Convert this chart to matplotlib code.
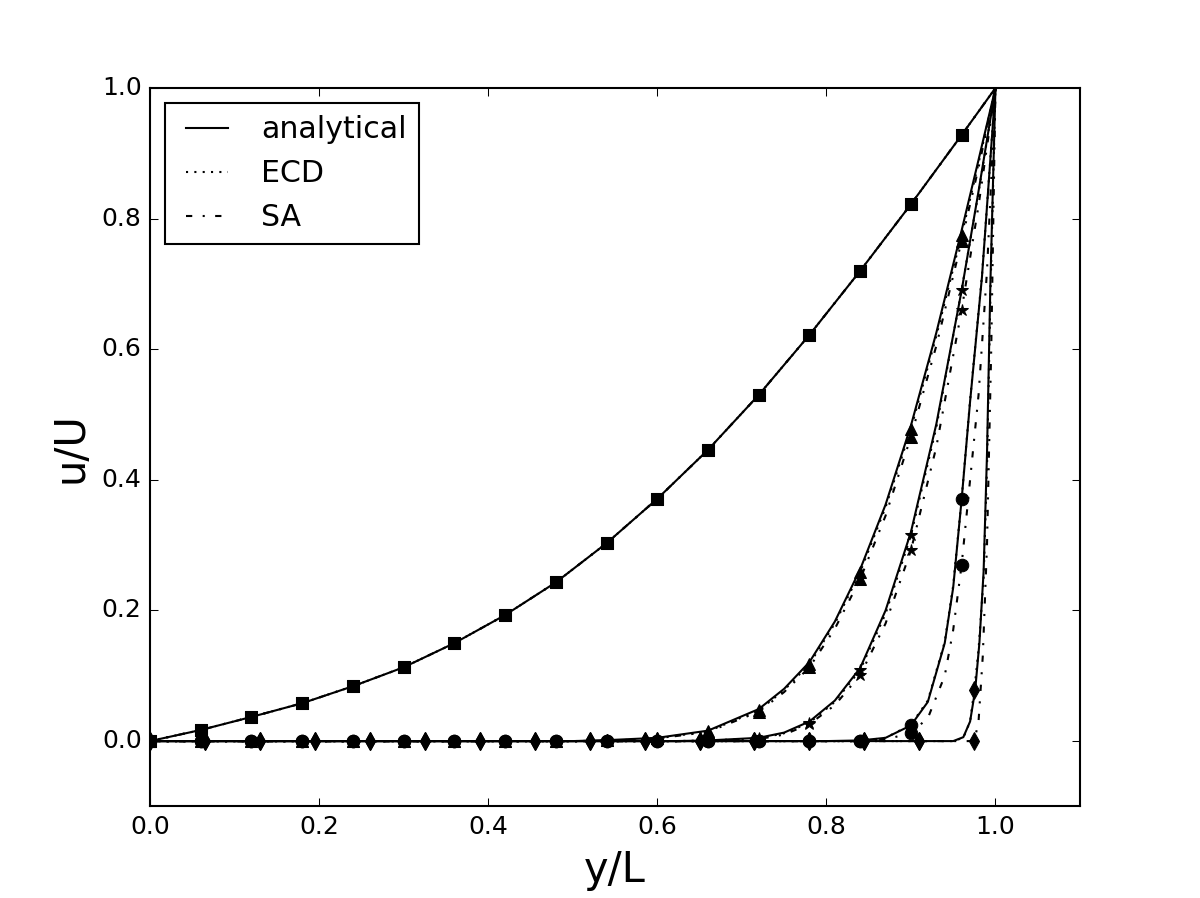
import matplotlib
matplotlib.use("Agg")
import matplotlib.pyplot as plt

# marker stations of the two numerical solvers
x_std = [0.0, 0.06, 0.12, 0.18, 0.24, 0.30, 0.36, 0.42, 0.48, 0.54,
         0.60, 0.66, 0.72, 0.78, 0.84, 0.90, 0.96]
x_dia = [0.0, 0.065, 0.13, 0.195, 0.26, 0.325, 0.39, 0.455, 0.52, 0.585,
         0.65, 0.715, 0.78, 0.845, 0.91, 0.975]

# numerical results at the marker stations
sq_ecd = [0.0, 0.017, 0.037, 0.058, 0.084, 0.113, 0.150, 0.193, 0.243, 0.303,
          0.371, 0.446, 0.530, 0.622, 0.720, 0.822, 0.928]
sq_sa = [0.0, 0.017, 0.037, 0.058, 0.084, 0.113, 0.150, 0.193, 0.243, 0.303,
         0.371, 0.446, 0.530, 0.622, 0.720, 0.822, 0.928]
tri_ecd = [0.0, 0.0, 0.0, 0.0, 0.0, 0.0, 0.0, 0.0, 0.0, 0.001,
           0.004, 0.015, 0.047, 0.118, 0.259, 0.478, 0.775]
tri_sa = [0.0, 0.0, 0.0, 0.0, 0.0, 0.0, 0.0, 0.0, 0.0, 0.001,
          0.004, 0.014, 0.045, 0.113, 0.248, 0.466, 0.766]
star_ecd = [0.0, 0.0, 0.0, 0.0, 0.0, 0.0, 0.0, 0.0, 0.0, 0.0,
            0.0, 0.001, 0.004, 0.028, 0.109, 0.315, 0.691]
star_sa = [0.0, 0.0, 0.0, 0.0, 0.0, 0.0, 0.0, 0.0, 0.0, 0.0,
           0.0, 0.0, 0.003, 0.026, 0.101, 0.292, 0.660]
circ_ecd = [0.0, 0.0, 0.0, 0.0, 0.0, 0.0, 0.0, 0.0, 0.0, 0.0,
            0.0, 0.0, 0.0, 0.0, 0.0, 0.025, 0.371]
circ_sa = [0.0, 0.0, 0.0, 0.0, 0.0, 0.0, 0.0, 0.0, 0.0, 0.0,
           0.0, 0.0, 0.0, 0.0, 0.0, 0.013, 0.270]
dia_ecd = [0.0, 0.0, 0.0, 0.0, 0.0, 0.0, 0.0, 0.0, 0.0, 0.0,
           0.0, 0.0, 0.0, 0.0, 0.0, 0.078]
dia_sa = [0.0, 0.0, 0.0, 0.0, 0.0, 0.0, 0.0, 0.0, 0.0, 0.0,
          0.0, 0.0, 0.0, 0.0, 0.0, 0.0]

# numerical profiles, full resolution
sq_line_x = [0.0, 0.06, 0.12, 0.18, 0.24, 0.30, 0.36, 0.42, 0.48, 0.54,
             0.60, 0.66, 0.72, 0.78, 0.84, 0.90, 0.96, 1.0]
sq_line_y = [0.0, 0.017, 0.037, 0.058, 0.084, 0.113, 0.150, 0.193, 0.243, 0.303,
             0.371, 0.446, 0.530, 0.622, 0.720, 0.822, 0.928, 1.0]
tri_line_x = [0.0, 0.50, 0.55, 0.60, 0.66, 0.72, 0.75, 0.78, 0.81, 0.84,
              0.87, 0.90, 0.93, 0.96, 0.98, 1.0]
tri_ecd_line = [0.0, 0.0, 0.001, 0.004, 0.015, 0.047, 0.078, 0.118, 0.180, 0.259,
                0.358, 0.478, 0.620, 0.775, 0.885, 1.0]
tri_sa_line = [0.0, 0.0, 0.001, 0.004, 0.014, 0.045, 0.075, 0.113, 0.172, 0.248,
               0.345, 0.466, 0.605, 0.766, 0.878, 1.0]
star_line_x = [0.0, 0.62, 0.66, 0.72, 0.75, 0.78, 0.81, 0.84, 0.87, 0.90,
               0.93, 0.96, 0.98, 1.0]
star_ecd_line = [0.0, 0.0, 0.001, 0.004, 0.012, 0.028, 0.060, 0.109, 0.195, 0.315,
                 0.480, 0.691, 0.840, 1.0]
star_sa_line = [0.0, 0.0, 0.0, 0.003, 0.010, 0.026, 0.055, 0.101, 0.180, 0.292,
                0.450, 0.660, 0.820, 1.0]
circ_ecd_x = [0.0, 0.80, 0.84, 0.87, 0.90, 0.92, 0.94, 0.95, 0.96, 0.97,
              0.984, 1.0]
circ_ecd_line = [0.0, 0.0, 0.0, 0.005, 0.025, 0.062, 0.152, 0.238, 0.371, 0.522,
                 0.712, 1.0]
circ_sa_x = [0.0, 0.84, 0.87, 0.90, 0.92, 0.94, 0.95, 0.96, 0.97, 0.98,
             0.99, 1.0]
circ_sa_line = [0.0, 0.0, 0.002, 0.013, 0.035, 0.100, 0.170, 0.270, 0.400, 0.530,
                0.720, 1.0]
dia_ecd_x = [0.0, 0.95, 0.962, 0.97, 0.975, 0.98, 0.986, 0.99, 0.994, 1.0]
dia_ecd_line = [0.0, 0.0, 0.005, 0.030, 0.078, 0.140, 0.250, 0.420, 0.680, 1.0]
dia_sa_x = [0.0, 0.975, 0.98, 0.985, 0.99, 0.995, 1.0]
dia_sa_line = [0.0, 0.0, 0.030, 0.130, 0.300, 0.600, 1.0]

# analytical profiles
ana_sq_x = [0.0, 0.06, 0.12, 0.18, 0.24, 0.30, 0.36, 0.42, 0.48, 0.54,
            0.60, 0.66, 0.72, 0.78, 0.84, 0.90, 0.96, 1.0]
ana_sq_y = [0.0, 0.017, 0.037, 0.058, 0.084, 0.113, 0.150, 0.193, 0.243, 0.303,
            0.371, 0.446, 0.530, 0.622, 0.720, 0.822, 0.928, 1.0]
ana_tri_x = [0.0, 0.50, 0.55, 0.60, 0.66, 0.72, 0.75, 0.78, 0.81, 0.84,
             0.87, 0.90, 0.93, 0.96, 0.98, 1.0]
ana_tri_y = [0.0, 0.0, 0.002, 0.005, 0.016, 0.049, 0.080, 0.121, 0.183, 0.263,
             0.362, 0.483, 0.625, 0.782, 0.890, 1.0]
ana_star_x = [0.0, 0.62, 0.66, 0.72, 0.75, 0.78, 0.81, 0.84, 0.87, 0.90,
              0.93, 0.96, 0.98, 1.0]
ana_star_y = [0.0, 0.0, 0.001, 0.005, 0.013, 0.030, 0.062, 0.112, 0.200, 0.320,
              0.485, 0.690, 0.842, 1.0]
ana_circ_x = [0.0, 0.80, 0.84, 0.87, 0.90, 0.92, 0.94, 0.95, 0.96, 0.97,
              0.984, 1.0]
ana_circ_y = [0.0, 0.0, 0.001, 0.005, 0.024, 0.060, 0.150, 0.235, 0.370, 0.520,
              0.710, 1.0]
ana_dia_x = [0.0, 0.95, 0.962, 0.97, 0.976, 0.981, 0.986, 0.990, 0.994, 1.0]
ana_dia_y = [0.0, 0.0, 0.006, 0.030, 0.078, 0.150, 0.260, 0.440, 0.700, 1.0]

plt.style.use("classic")
fig = plt.figure(figsize=(8, 898 / 150), dpi=150)
fig.subplots_adjust(left=0.125, right=0.9, bottom=0.102, top=0.902)
ax = fig.add_subplot(111)

# analytical solutions
for xs, ys in [(ana_sq_x, ana_sq_y), (ana_tri_x, ana_tri_y),
               (ana_star_x, ana_star_y), (ana_circ_x, ana_circ_y),
               (ana_dia_x, ana_dia_y)]:
    ax.plot(xs, ys, "k-", lw=1.0)

# numerical profiles: ECD dotted, SA dash-dot
ecd_lines = [(sq_line_x, sq_line_y), (tri_line_x, tri_ecd_line),
             (star_line_x, star_ecd_line), (circ_ecd_x, circ_ecd_line),
             (dia_ecd_x, dia_ecd_line)]
sa_lines = [(sq_line_x, sq_line_y), (tri_line_x, tri_sa_line),
            (star_line_x, star_sa_line), (circ_sa_x, circ_sa_line),
            (dia_sa_x, dia_sa_line)]
for xs, ys in ecd_lines:
    ax.plot(xs, ys, "k:", lw=1.0)
for xs, ys in sa_lines:
    ax.plot(xs, ys, "k-.", lw=1.0)

# markers
marks = [
    ("s", x_std, sq_ecd, sq_sa),
    ("^", x_std, tri_ecd, tri_sa),
    ("*", x_std, star_ecd, star_sa),
    ("o", x_std, circ_ecd, circ_sa),
    ("d", x_dia, dia_ecd, dia_sa),
]
for mk, xs, ecd, sa in marks:
    ax.plot(xs, ecd, ls="none", marker=mk, mec="k", mfc="k")
    ax.plot(xs, sa, ls="none", marker=mk, mec="k", mfc="k")

# legend entries
ax.plot([], [], "k-", label="analytical")
ax.plot([], [], "k:", label="ECD")
ax.plot([], [], "k-.", label="SA")
ax.legend(loc="upper left", fontsize="large")

ax.set_xlim(0.0, 1.1)
ax.set_ylim(-0.1, 1.0)
ax.set_xlabel("y/L", fontsize=20)
ax.set_ylabel("u/U", fontsize=20)

fig.savefig("out.png", dpi=150)
